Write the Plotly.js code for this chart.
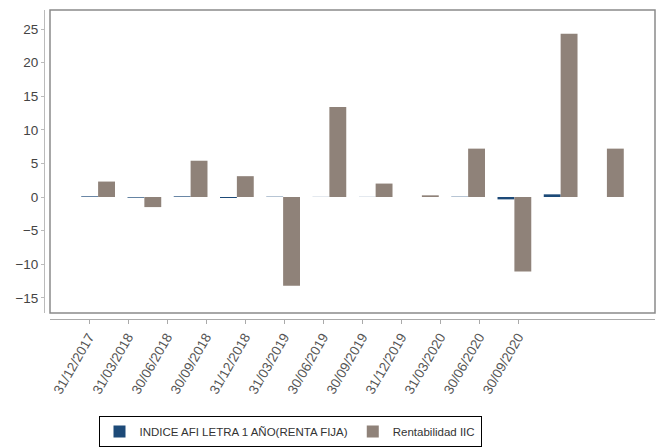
<!DOCTYPE html>
<html>
<head>
<meta charset="utf-8">
<script src="https://cdn.plot.ly/plotly-3.0.1.min.js"></script>
<style>html,body{margin:0;padding:0;background:#fff;}#chart{width:661px;height:448px;}</style>
</head>
<body>
<div id="chart"></div>
<script>
const categories = ["31/12/2017","31/03/2018","30/06/2018","30/09/2018","31/12/2018","31/03/2019","30/06/2019","30/09/2019","31/12/2019","31/03/2020","30/06/2020","30/09/2020"];
const indiceAfi = [0.1, -0.1, 0.1, -0.15, 0.05, 0.02, 0.02, 0.0, 0.05, -0.35, 0.4, 0.0];
const rentabilidadIIC = [2.3, -1.5, 5.4, 3.1, -13.2, 13.4, 2.0, 0.25, 7.2, -11.1, 24.3, 7.2];
const yTicks = [-15, -10, -5, 0, 5, 10, 15, 20, 25];

const W = 661, H = 448;
const plotL = 44, plotR = 655, plotT = 10, plotB = 319;
const frameL = 50, frameB = 313;
const pw = plotR - plotL, ph = plotB - plotT;
const idx = categories.map((_, i) => i);

const traces = [
  {type:'bar', name:'INDICE AFI LETRA 1 AÑO(RENTA FIJA)', x:categories, y:indiceAfi,
   marker:{color:'#1d4a78'}, xaxis:'x', yaxis:'y'},
  {type:'bar', name:'Rentabilidad IIC', x:categories, y:rentabilidadIIC,
   marker:{color:'#8f8279'}, xaxis:'x', yaxis:'y'},
  {type:'scatter', mode:'none', x:idx, y:idx.map(() => 0), xaxis:'x2', yaxis:'y',
   showlegend:false, hoverinfo:'skip'}
];

const layout = {
  width: W, height: H,
  margin: {l: plotL, r: W - plotR, t: plotT, b: H - plotB, pad: 0, autoexpand: false},
  paper_bgcolor: '#fff', plot_bgcolor: '#fff',
  font: {family: 'Liberation Sans, Arial, sans-serif', color: '#444', size: 12},
  barmode: 'group', bargap: 0.27, bargroupgap: 0,
  showlegend: true,
  legend: {orientation: 'h', xref: 'container', x: 290 / W, xanchor: 'center',
           yref: 'container', y: 1 - 416 / H, yanchor: 'top',
           bordercolor: '#000', borderwidth: 1, bgcolor: '#fff',
           font: {size: 11.5, color: '#333'}, itemwidth: 30, tracegroupgap: 0},
  xaxis: {type: 'category', domain: [(frameL - plotL) / pw, 1], range: [-1.04, 12.04],
          anchor: 'y', showticklabels: false, ticks: '', showline: false,
          showgrid: false, zeroline: false, fixedrange: true},
  xaxis2: {type: 'linear', overlaying: 'x', anchor: 'free', position: 0,
           domain: [(frameL - plotL) / pw, 1], range: [-1.0, 14.51],
           tickmode: 'array', tickvals: idx, ticktext: categories,
           tickangle: -60, tickfont: {size: 13.5, color: '#555'},
           ticks: 'outside', ticklen: 4, tickcolor: '#aaa',
           showline: true, linecolor: '#aaa', linewidth: 1,
           showgrid: false, zeroline: false, fixedrange: true},
  yaxis: {domain: [(plotB - frameB) / ph, 1], range: [-17.26, 27.83],
          anchor: 'free', position: 0,
          tickmode: 'array', tickvals: yTicks,
          ticks: 'outside', ticklen: 3, tickcolor: '#bbb',
          showline: true, linecolor: '#bbb', linewidth: 1,
          showgrid: false, zeroline: false, fixedrange: true,
          tickfont: {size: 13.5, color: '#444'}},
  shapes: [
    {type: 'rect', xref: 'x domain', yref: 'y domain', x0: 0, x1: 1, y0: 0, y1: 1,
     line: {color: '#8a8a8a', width: 1.5}, fillcolor: 'rgba(0,0,0,0)', layer: 'above'}
  ]
};

Plotly.newPlot('chart', traces, layout, {displayModeBar: false, staticPlot: true});
</script>
</body>
</html>
